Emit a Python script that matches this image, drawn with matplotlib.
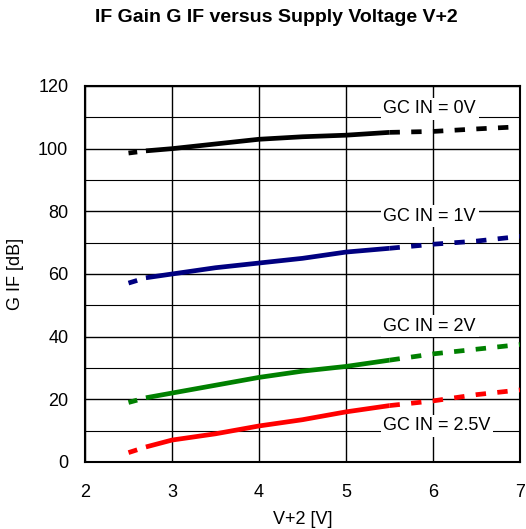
import matplotlib
matplotlib.use("Agg")
import matplotlib.pyplot as plt
import numpy as np

plt.rcParams['font.family'] = ['Liberation Sans', 'DejaVu Sans']

v = [2.5, 2.7, 3.0, 3.5, 4.0, 4.5, 5.0, 5.5, 6.0, 6.5, 7.0]
g_0v = [98.6, 99.3, 100.0, 101.5, 103.0, 103.8, 104.3, 105.2, 105.5, 106.3, 107.0]
g_1v = [57.1, 58.8, 60.0, 62.0, 63.5, 65.0, 67.0, 68.2, 69.5, 70.5, 72.0]
g_2v = [19.0, 20.5, 22.0, 24.5, 27.0, 29.0, 30.5, 32.5, 34.5, 36.0, 37.5]
g_25v = [3.0, 4.8, 7.0, 9.0, 11.5, 13.5, 16.0, 18.0, 19.5, 21.5, 23.0]

series = [g_0v, g_1v, g_2v, g_25v]
colors = ['black', '#000080', '#008000', '#ff0000']
labels = ['GC IN = 0V', 'GC IN = 1V', 'GC IN = 2V', 'GC IN = 2.5V']
label_y = [112.7, 78.5, 43.4, 11.5]
xticks = [2, 3, 4, 5, 6, 7]
yticks = [0, 20, 40, 60, 80, 100, 120]

fig = plt.figure(figsize=(5.26, 5.29), dpi=100)
ax = fig.add_axes([85/526, 1-462/529, 435/526, 376/529])

x = np.array(v)
dash = (0, (2.2, 2.4))
for ys, c in zip(series, colors):
    ys = np.array(ys)
    ax.plot([x[0], x[0] + 0.1], [ys[0], ys[0] + (ys[1] - ys[0]) * 0.5], color=c, lw=3.4,
            solid_capstyle='butt', zorder=3)
    ax.plot(x[1:8], ys[1:8], color=c, lw=3.4, ls='-', solid_capstyle='butt', zorder=3)
    ax.plot(x[7:], ys[7:], color=c, lw=3.4, ls=dash, dash_capstyle='butt', zorder=3)

for lab, ly in zip(labels, label_y):
    ax.text(5.43, ly, lab, ha='left', va='center', fontsize=13,
            bbox=dict(facecolor='white', edgecolor='none', pad=2), zorder=4)

ax.set_xlim(2, 7)
ax.set_ylim(0, 120)
ax.set_xticks(xticks)
ax.set_yticks(yticks)
ax.set_yticks(np.arange(10, 120, 20), minor=True)
ax.grid(True, which='major', color='black', lw=1.0, zorder=1)
ax.grid(True, which='minor', axis='y', color='black', lw=0.8, zorder=1)
ax.tick_params(which='both', length=0, labelsize=13)
ax.tick_params(axis='x', pad=16)
ax.tick_params(axis='y', pad=12)
for s in ax.spines.values():
    s.set_linewidth(1.5)
ax.set_axisbelow(True)

ax.set_xlabel('V+2 [V]', fontsize=13, labelpad=7)
ax.set_ylabel('G IF [dB]', fontsize=13, labelpad=10)
fig.text(0.525, 1-18/529, 'IF Gain G IF versus Supply Voltage V+2', ha='center', va='center',
         fontsize=14, fontweight='bold')

fig.savefig('out.png', dpi=100)
